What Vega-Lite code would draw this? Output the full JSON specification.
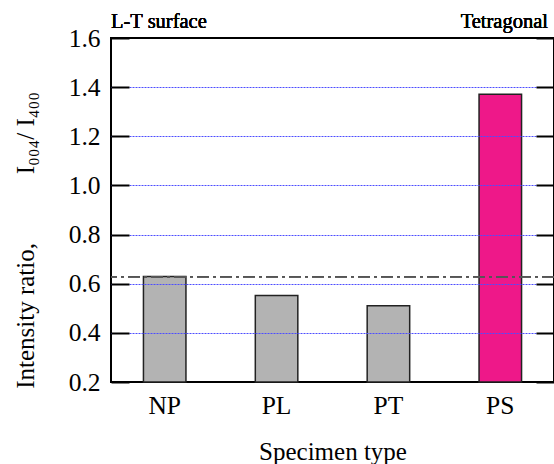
{
  "$schema": "https://vega.github.io/schema/vega-lite/v6.json",
  "width": 443,
  "height": 344,
  "autosize": {"type": "none"},
  "padding": {"left": 111, "top": 38, "right": 0, "bottom": 82},
  "background": "white",
  "config": {
    "view": {"stroke": "black", "strokeWidth": 2},
    "font": "Liberation Serif",
    "axis": {"labelFont": "Liberation Serif", "titleFont": "Liberation Serif", "labelColor": "black", "titleColor": "black", "labelFontWeight": "normal"}
  },
  "data": {"values": [
    {"type": "NP", "ratio": 0.629},
    {"type": "PL", "ratio": 0.552},
    {"type": "PT", "ratio": 0.51},
    {"type": "PS", "ratio": 1.371}
  ]},
  "resolve": {"axis": {"y": "independent"}},
  "layer": [
    {
      "mark": {"type": "bar", "stroke": "#222222", "strokeWidth": 1.5},
      "encoding": {
        "x": {
          "field": "type", "type": "nominal", "sort": ["NP", "PL", "PT", "PS"],
          "scale": {"paddingInner": 0.62, "paddingOuter": 0.29},
          "axis": {
            "title": "Specimen type", "titleFontSize": 25, "titleFontWeight": "normal",
            "titleBaseline": "alphabetic", "titleY": 77,
            "labelAngle": 0, "labelFontSize": 25.5, "labelFontWeight": "normal",
            "labelBaseline": "alphabetic", "labelPadding": 31,
            "ticks": false, "domain": false, "grid": false
          }
        },
        "y": {
          "field": "ratio", "type": "quantitative",
          "scale": {"domain": [0.2, 1.6], "nice": false, "zero": false},
          "axis": {
            "orient": "left",
            "values": [0.2, 0.4, 0.6, 0.8, 1.0, 1.2, 1.4, 1.6], "format": ".1f",
            "labelFontSize": 25.5, "labelFontWeight": "normal",
            "labelPadding": 29,
            "tickSize": -18, "tickWidth": 2, "tickColor": "black",
            "domain": false,
            "grid": true, "gridWidth": 1, "gridDash": [2, 1],
            "gridColor": {"condition": {"test": "datum.value <= 0.21 || datum.value >= 1.59", "value": "transparent"}, "value": "#4d4dff"},
            "zindex": 1,
            "title": "Intensity ratio,\u00a0\u00a0\u00a0\u00a0\u00a0\u00a0\u00a0\u00a0\u00a0\u00a0\u00a0I₀₀₄/ I₄₀₀", "titleFontSize": 25, "titleFontWeight": "normal",
            "titleAlign": "center", "titleBaseline": "alphabetic", "titleAngle": -90,
            "titleX": -78, "titleY": 202
          }
        },
        "y2": {"datum": 0.2},
        "color": {
          "condition": {"test": "datum.type === 'PS'", "value": "#ee1889"},
          "value": "#b3b3b3"
        }
      }
    },
    {
      "mark": {"type": "rule", "color": "#555555", "strokeWidth": 1.5, "strokeDash": [12, 4, 3, 4]},
      "encoding": {
        "y": {
          "datum": 0.628, "type": "quantitative",
          "axis": {
            "orient": "right",
            "values": [0.2, 0.4, 0.6, 0.8, 1.0, 1.2, 1.4, 1.6],
            "labels": false, "tickSize": -18, "tickWidth": 2, "tickColor": "black",
            "domain": false, "grid": false, "title": null, "zindex": 1
          }
        }
      }
    },
    {
      "mark": {"type": "text", "align": "left", "baseline": "alphabetic", "dy": -10, "fontSize": 20.5, "font": "Liberation Serif", "fontWeight": "normal", "color": "black"},
      "encoding": {
        "x": {"value": 0},
        "y": {"datum": 1.6, "type": "quantitative", "axis": null},
        "text": {"value": "L-T surface"}
      }
    },
    {
      "mark": {"type": "text", "align": "right", "baseline": "alphabetic", "dy": -10, "dx": -6, "fontSize": 20.5, "font": "Liberation Serif", "fontWeight": "normal", "color": "black"},
      "encoding": {
        "x": {"value": "width"},
        "y": {"datum": 1.6, "type": "quantitative", "axis": null},
        "text": {"value": "Tetragonal"}
      }
    }
  ]
}
